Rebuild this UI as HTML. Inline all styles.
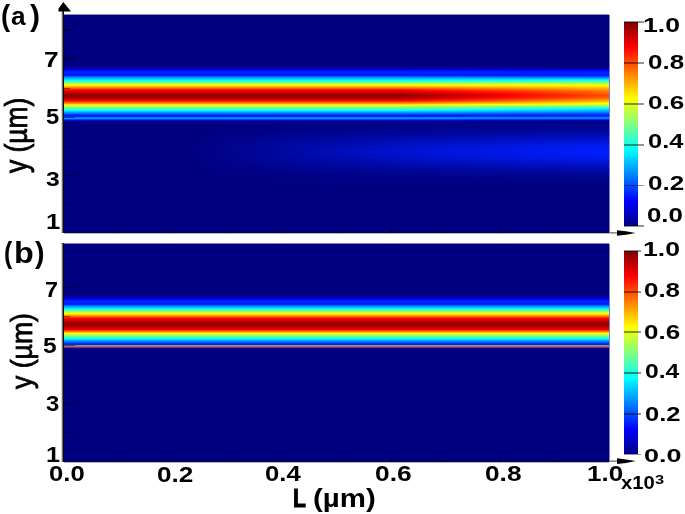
<!DOCTYPE html>
<html><head><meta charset="utf-8"><style>
html,body{margin:0;padding:0;background:#fff;width:685px;height:514px;overflow:hidden}
body{position:relative}
.t{position:absolute;white-space:nowrap;font-family:"Liberation Sans",sans-serif;font-weight:bold;color:#000;transform-origin:0 0}
.p{position:absolute;left:64px;width:545px}
.tk{position:absolute;background:rgba(0,0,0,0.45)}
.cbt{position:absolute;left:624px;width:20px;height:1.8px;background:rgba(0,0,0,0.42)}
.cb{position:absolute;left:624px;width:14.4px}
.ax{position:absolute;left:61px;width:3px;background:linear-gradient(to right,rgb(215,215,205) 0px,rgb(215,215,205) 1px,rgb(110,110,100) 1px,rgb(110,110,100) 2px,rgb(10,10,30) 2px,rgb(10,10,30) 3px)}
</style></head><body>
<div class="p" style="top:15px;height:218.0px;background:linear-gradient(to bottom,rgb(0, 0, 128) 0.0px,rgb(0, 0, 128) 51.5px,rgb(0, 0, 138) 52.0px,rgb(0, 0, 155) 52.5px,rgb(0, 0, 172) 53.0px,rgb(0, 0, 189) 53.5px,rgb(0, 0, 209) 54.0px,rgb(0, 0, 230) 54.5px,rgb(0, 0, 251) 55.0px,rgb(0, 7, 255) 55.5px,rgb(0, 16, 255) 56.0px,rgb(0, 25, 255) 56.5px,rgb(0, 34, 255) 57.0px,rgb(0, 42, 255) 57.5px,rgb(0, 41, 255) 58.0px,rgb(0, 33, 255) 58.5px,rgb(0, 25, 255) 59.0px,rgb(0, 22, 255) 59.5px,rgb(0, 18, 255) 60.0px,rgb(0, 29, 255) 60.5px,rgb(0, 62, 255) 61.0px,rgb(0, 95, 255) 61.5px,rgb(0, 128, 255) 62.0px,rgb(0, 148, 255) 62.5px,rgb(0, 168, 255) 63.0px,rgb(0, 189, 255) 63.5px,rgb(0, 206, 255) 64.0px,rgb(0, 224, 255) 64.5px,rgb(0, 241, 255) 65.0px,rgb(6, 255, 249) 65.5px,rgb(35, 255, 220) 66.0px,rgb(64, 255, 191) 66.5px,rgb(93, 255, 162) 67.0px,rgb(122, 255, 133) 67.5px,rgb(147, 255, 108) 68.0px,rgb(172, 255, 83) 68.5px,rgb(196, 255, 59) 69.0px,rgb(221, 255, 34) 69.5px,rgb(245, 255, 10) 70.0px,rgb(255, 240, 0) 70.5px,rgb(255, 214, 0) 71.0px,rgb(255, 189, 0) 71.5px,rgb(255, 163, 0) 72.0px,rgb(255, 138, 0) 72.5px,rgb(255, 111, 0) 73.0px,rgb(255, 85, 0) 73.5px,rgb(255, 58, 0) 74.0px,rgb(255, 31, 0) 74.5px,rgb(255, 9, 0) 75.0px,rgb(249, 0, 0) 75.5px,rgb(234, 0, 0) 76.0px,rgb(219, 0, 0) 76.5px,rgb(207, 0, 0) 77.0px,rgb(194, 0, 0) 77.5px,rgb(182, 0, 0) 78.0px,rgb(170, 0, 0) 78.5px,rgb(162, 0, 0) 79.0px,rgb(157, 0, 0) 79.5px,rgb(153, 0, 0) 80.0px,rgb(149, 0, 0) 80.5px,rgb(151, 0, 0) 81.0px,rgb(156, 0, 0) 81.5px,rgb(160, 0, 0) 82.0px,rgb(166, 0, 0) 82.5px,rgb(177, 0, 0) 83.0px,rgb(189, 0, 0) 83.5px,rgb(202, 0, 0) 84.0px,rgb(217, 0, 0) 84.5px,rgb(231, 0, 0) 85.0px,rgb(246, 0, 0) 85.5px,rgb(255, 11, 0) 86.0px,rgb(255, 39, 0) 86.5px,rgb(255, 67, 0) 87.0px,rgb(255, 94, 0) 87.5px,rgb(255, 122, 0) 88.0px,rgb(255, 154, 0) 88.5px,rgb(255, 188, 0) 89.0px,rgb(255, 221, 0) 89.5px,rgb(255, 255, 0) 90.0px,rgb(231, 255, 24) 90.5px,rgb(208, 255, 47) 91.0px,rgb(184, 255, 71) 91.5px,rgb(161, 255, 94) 92.0px,rgb(137, 255, 118) 92.5px,rgb(113, 255, 142) 93.0px,rgb(90, 255, 165) 93.5px,rgb(66, 255, 189) 94.0px,rgb(43, 255, 212) 94.5px,rgb(19, 255, 236) 95.0px,rgb(0, 250, 255) 95.5px,rgb(0, 227, 255) 96.0px,rgb(0, 203, 255) 96.5px,rgb(0, 179, 255) 97.0px,rgb(0, 156, 255) 97.5px,rgb(0, 132, 255) 98.0px,rgb(0, 110, 255) 98.5px,rgb(0, 89, 255) 99.0px,rgb(0, 68, 255) 99.5px,rgb(0, 47, 255) 100.0px,rgb(0, 25, 255) 100.5px,rgb(0, 25, 255) 101.0px,rgb(0, 40, 255) 101.5px,rgb(0, 77, 255) 102.0px,rgb(0, 121, 255) 102.5px,rgb(0, 148, 255) 103.0px,rgb(0, 148, 255) 103.5px,rgb(0, 107, 255) 104.0px,rgb(0, 56, 255) 104.5px,rgb(0, 10, 255) 105.0px,rgb(0, 0, 219) 105.5px,rgb(0, 0, 184) 106.0px,rgb(0, 0, 149) 106.5px,rgb(0, 0, 128) 107.0px,rgb(0, 0, 128) 218.0px)"></div>
<div class="p" style="top:15px;height:218.0px;background:linear-gradient(to bottom,rgb(0, 0, 128) 0.0px,rgb(0, 0, 128) 51.5px,rgb(0, 0, 135) 52.0px,rgb(0, 0, 148) 52.5px,rgb(0, 0, 165) 53.0px,rgb(0, 0, 183) 53.5px,rgb(0, 0, 204) 54.0px,rgb(0, 0, 226) 54.5px,rgb(0, 0, 248) 55.0px,rgb(0, 6, 255) 55.5px,rgb(0, 15, 255) 56.0px,rgb(0, 24, 255) 56.5px,rgb(0, 32, 255) 57.0px,rgb(0, 39, 255) 57.5px,rgb(0, 39, 255) 58.0px,rgb(0, 34, 255) 58.5px,rgb(0, 27, 255) 59.0px,rgb(0, 24, 255) 59.5px,rgb(0, 20, 255) 60.0px,rgb(0, 30, 255) 60.5px,rgb(0, 61, 255) 61.0px,rgb(0, 91, 255) 61.5px,rgb(0, 122, 255) 62.0px,rgb(0, 143, 255) 62.5px,rgb(0, 164, 255) 63.0px,rgb(0, 186, 255) 63.5px,rgb(0, 206, 255) 64.0px,rgb(0, 225, 255) 64.5px,rgb(0, 245, 255) 65.0px,rgb(11, 255, 244) 65.5px,rgb(39, 255, 216) 66.0px,rgb(67, 255, 188) 66.5px,rgb(95, 255, 160) 67.0px,rgb(123, 255, 132) 67.5px,rgb(148, 255, 107) 68.0px,rgb(172, 255, 83) 68.5px,rgb(197, 255, 58) 69.0px,rgb(221, 255, 34) 69.5px,rgb(245, 255, 10) 70.0px,rgb(255, 242, 0) 70.5px,rgb(255, 220, 0) 71.0px,rgb(255, 198, 0) 71.5px,rgb(255, 177, 0) 72.0px,rgb(255, 155, 0) 72.5px,rgb(255, 132, 0) 73.0px,rgb(255, 110, 0) 73.5px,rgb(255, 87, 0) 74.0px,rgb(255, 64, 0) 74.5px,rgb(255, 45, 0) 75.0px,rgb(255, 30, 0) 75.5px,rgb(255, 16, 0) 76.0px,rgb(255, 4, 0) 76.5px,rgb(247, 0, 0) 77.0px,rgb(237, 0, 0) 77.5px,rgb(226, 0, 0) 78.0px,rgb(216, 0, 0) 78.5px,rgb(208, 0, 0) 79.0px,rgb(203, 0, 0) 79.5px,rgb(199, 0, 0) 80.0px,rgb(194, 0, 0) 80.5px,rgb(198, 0, 0) 81.0px,rgb(202, 0, 0) 81.5px,rgb(207, 0, 0) 82.0px,rgb(212, 0, 0) 82.5px,rgb(224, 0, 0) 83.0px,rgb(235, 0, 0) 83.5px,rgb(247, 0, 0) 84.0px,rgb(255, 6, 0) 84.5px,rgb(255, 21, 0) 85.0px,rgb(255, 35, 0) 85.5px,rgb(255, 53, 0) 86.0px,rgb(255, 78, 0) 86.5px,rgb(255, 102, 0) 87.0px,rgb(255, 127, 0) 87.5px,rgb(255, 151, 0) 88.0px,rgb(255, 180, 0) 88.5px,rgb(255, 210, 0) 89.0px,rgb(255, 241, 0) 89.5px,rgb(238, 255, 17) 90.0px,rgb(215, 255, 40) 90.5px,rgb(191, 255, 64) 91.0px,rgb(165, 255, 90) 91.5px,rgb(140, 255, 115) 92.0px,rgb(115, 255, 140) 92.5px,rgb(90, 255, 165) 93.0px,rgb(66, 255, 189) 93.5px,rgb(44, 255, 211) 94.0px,rgb(22, 255, 233) 94.5px,rgb(1, 255, 254) 95.0px,rgb(0, 234, 255) 95.5px,rgb(0, 212, 255) 96.0px,rgb(0, 190, 255) 96.5px,rgb(0, 169, 255) 97.0px,rgb(0, 147, 255) 97.5px,rgb(0, 125, 255) 98.0px,rgb(0, 105, 255) 98.5px,rgb(0, 85, 255) 99.0px,rgb(0, 65, 255) 99.5px,rgb(0, 45, 255) 100.0px,rgb(0, 25, 255) 100.5px,rgb(0, 26, 255) 101.0px,rgb(0, 44, 255) 101.5px,rgb(0, 79, 255) 102.0px,rgb(0, 120, 255) 102.5px,rgb(0, 148, 255) 103.0px,rgb(0, 143, 255) 103.5px,rgb(0, 104, 255) 104.0px,rgb(0, 51, 255) 104.5px,rgb(0, 1, 255) 105.0px,rgb(0, 0, 214) 105.5px,rgb(0, 0, 180) 106.0px,rgb(0, 0, 147) 106.5px,rgb(0, 0, 128) 107.0px,rgb(0, 0, 128) 218.0px);-webkit-mask-image:linear-gradient(to right,rgba(0,0,0,0) 336.0px,rgba(0,0,0,1) 386.0px);mask-image:linear-gradient(to right,rgba(0,0,0,0) 336.0px,rgba(0,0,0,1) 386.0px)"></div><div class="p" style="top:15px;height:218.0px;background:linear-gradient(to bottom,rgb(0, 0, 128) 0.0px,rgb(0, 0, 128) 51.5px,rgb(0, 0, 133) 52.0px,rgb(0, 0, 141) 52.5px,rgb(0, 0, 158) 53.0px,rgb(0, 0, 178) 53.5px,rgb(0, 0, 199) 54.0px,rgb(0, 0, 222) 54.5px,rgb(0, 0, 245) 55.0px,rgb(0, 5, 255) 55.5px,rgb(0, 13, 255) 56.0px,rgb(0, 22, 255) 56.5px,rgb(0, 30, 255) 57.0px,rgb(0, 36, 255) 57.5px,rgb(0, 37, 255) 58.0px,rgb(0, 35, 255) 58.5px,rgb(0, 29, 255) 59.0px,rgb(0, 26, 255) 59.5px,rgb(0, 22, 255) 60.0px,rgb(0, 32, 255) 60.5px,rgb(0, 60, 255) 61.0px,rgb(0, 88, 255) 61.5px,rgb(0, 116, 255) 62.0px,rgb(0, 138, 255) 62.5px,rgb(0, 161, 255) 63.0px,rgb(0, 184, 255) 63.5px,rgb(0, 205, 255) 64.0px,rgb(0, 227, 255) 64.5px,rgb(0, 248, 255) 65.0px,rgb(16, 255, 239) 65.5px,rgb(43, 255, 212) 66.0px,rgb(70, 255, 185) 66.5px,rgb(97, 255, 158) 67.0px,rgb(125, 255, 130) 67.5px,rgb(149, 255, 106) 68.0px,rgb(173, 255, 82) 68.5px,rgb(197, 255, 58) 69.0px,rgb(221, 255, 34) 69.5px,rgb(245, 255, 10) 70.0px,rgb(255, 244, 0) 70.5px,rgb(255, 226, 0) 71.0px,rgb(255, 208, 0) 71.5px,rgb(255, 190, 0) 72.0px,rgb(255, 172, 0) 72.5px,rgb(255, 153, 0) 73.0px,rgb(255, 134, 0) 73.5px,rgb(255, 115, 0) 74.0px,rgb(255, 96, 0) 74.5px,rgb(255, 80, 0) 75.0px,rgb(255, 67, 0) 75.5px,rgb(255, 53, 0) 76.0px,rgb(255, 43, 0) 76.5px,rgb(255, 33, 0) 77.0px,rgb(255, 24, 0) 77.5px,rgb(255, 15, 0) 78.0px,rgb(255, 6, 0) 78.5px,rgb(254, 0, 0) 79.0px,rgb(249, 0, 0) 79.5px,rgb(245, 0, 0) 80.0px,rgb(240, 0, 0) 80.5px,rgb(244, 0, 0) 81.0px,rgb(249, 0, 0) 81.5px,rgb(253, 0, 0) 82.0px,rgb(255, 4, 0) 82.5px,rgb(255, 15, 0) 83.0px,rgb(255, 26, 0) 83.5px,rgb(255, 37, 0) 84.0px,rgb(255, 51, 0) 84.5px,rgb(255, 65, 0) 85.0px,rgb(255, 79, 0) 85.5px,rgb(255, 96, 0) 86.0px,rgb(255, 117, 0) 86.5px,rgb(255, 138, 0) 87.0px,rgb(255, 160, 0) 87.5px,rgb(255, 181, 0) 88.0px,rgb(255, 205, 0) 88.5px,rgb(255, 232, 0) 89.0px,rgb(250, 255, 5) 89.5px,rgb(222, 255, 33) 90.0px,rgb(199, 255, 56) 90.5px,rgb(174, 255, 81) 91.0px,rgb(147, 255, 108) 91.5px,rgb(120, 255, 135) 92.0px,rgb(93, 255, 162) 92.5px,rgb(66, 255, 189) 93.0px,rgb(42, 255, 213) 93.5px,rgb(22, 255, 233) 94.0px,rgb(2, 255, 253) 94.5px,rgb(0, 237, 255) 95.0px,rgb(0, 218, 255) 95.5px,rgb(0, 198, 255) 96.0px,rgb(0, 178, 255) 96.5px,rgb(0, 158, 255) 97.0px,rgb(0, 138, 255) 97.5px,rgb(0, 118, 255) 98.0px,rgb(0, 99, 255) 98.5px,rgb(0, 81, 255) 99.0px,rgb(0, 62, 255) 99.5px,rgb(0, 44, 255) 100.0px,rgb(0, 25, 255) 100.5px,rgb(0, 26, 255) 101.0px,rgb(0, 48, 255) 101.5px,rgb(0, 81, 255) 102.0px,rgb(0, 119, 255) 102.5px,rgb(0, 148, 255) 103.0px,rgb(0, 138, 255) 103.5px,rgb(0, 100, 255) 104.0px,rgb(0, 45, 255) 104.5px,rgb(0, 0, 247) 105.0px,rgb(0, 0, 209) 105.5px,rgb(0, 0, 175) 106.0px,rgb(0, 0, 145) 106.5px,rgb(0, 0, 128) 107.0px,rgb(0, 0, 128) 218.0px);-webkit-mask-image:linear-gradient(to right,rgba(0,0,0,0) 386.0px,rgba(0,0,0,1) 436.0px);mask-image:linear-gradient(to right,rgba(0,0,0,0) 386.0px,rgba(0,0,0,1) 436.0px)"></div><div class="p" style="top:15px;height:218.0px;background:linear-gradient(to bottom,rgb(0, 0, 128) 0.0px,rgb(0, 0, 128) 51.5px,rgb(0, 0, 130) 52.0px,rgb(0, 0, 134) 52.5px,rgb(0, 0, 152) 53.0px,rgb(0, 0, 172) 53.5px,rgb(0, 0, 194) 54.0px,rgb(0, 0, 218) 54.5px,rgb(0, 0, 242) 55.0px,rgb(0, 4, 255) 55.5px,rgb(0, 12, 255) 56.0px,rgb(0, 20, 255) 56.5px,rgb(0, 28, 255) 57.0px,rgb(0, 32, 255) 57.5px,rgb(0, 35, 255) 58.0px,rgb(0, 35, 255) 58.5px,rgb(0, 31, 255) 59.0px,rgb(0, 28, 255) 59.5px,rgb(0, 25, 255) 60.0px,rgb(0, 33, 255) 60.5px,rgb(0, 59, 255) 61.0px,rgb(0, 84, 255) 61.5px,rgb(0, 110, 255) 62.0px,rgb(0, 133, 255) 62.5px,rgb(0, 157, 255) 63.0px,rgb(0, 181, 255) 63.5px,rgb(0, 205, 255) 64.0px,rgb(0, 228, 255) 64.5px,rgb(0, 252, 255) 65.0px,rgb(21, 255, 234) 65.5px,rgb(47, 255, 208) 66.0px,rgb(73, 255, 182) 66.5px,rgb(100, 255, 155) 67.0px,rgb(126, 255, 129) 67.5px,rgb(150, 255, 105) 68.0px,rgb(174, 255, 81) 68.5px,rgb(198, 255, 57) 69.0px,rgb(222, 255, 33) 69.5px,rgb(245, 255, 10) 70.0px,rgb(255, 246, 0) 70.5px,rgb(255, 232, 0) 71.0px,rgb(255, 218, 0) 71.5px,rgb(255, 203, 0) 72.0px,rgb(255, 189, 0) 72.5px,rgb(255, 174, 0) 73.0px,rgb(255, 159, 0) 73.5px,rgb(255, 144, 0) 74.0px,rgb(255, 129, 0) 74.5px,rgb(255, 115, 0) 75.0px,rgb(255, 103, 0) 75.5px,rgb(255, 90, 0) 76.0px,rgb(255, 82, 0) 76.5px,rgb(255, 74, 0) 77.0px,rgb(255, 67, 0) 77.5px,rgb(255, 59, 0) 78.0px,rgb(255, 52, 0) 78.5px,rgb(255, 45, 0) 79.0px,rgb(255, 41, 0) 79.5px,rgb(255, 36, 0) 80.0px,rgb(255, 31, 0) 80.5px,rgb(255, 35, 0) 81.0px,rgb(255, 40, 0) 81.5px,rgb(255, 45, 0) 82.0px,rgb(255, 50, 0) 82.5px,rgb(255, 61, 0) 83.0px,rgb(255, 72, 0) 83.5px,rgb(255, 82, 0) 84.0px,rgb(255, 96, 0) 84.5px,rgb(255, 110, 0) 85.0px,rgb(255, 123, 0) 85.5px,rgb(255, 138, 0) 86.0px,rgb(255, 156, 0) 86.5px,rgb(255, 174, 0) 87.0px,rgb(255, 192, 0) 87.5px,rgb(255, 210, 0) 88.0px,rgb(255, 230, 0) 88.5px,rgb(255, 255, 0) 89.0px,rgb(230, 255, 25) 89.5px,rgb(205, 255, 50) 90.0px,rgb(183, 255, 72) 90.5px,rgb(157, 255, 98) 91.0px,rgb(128, 255, 127) 91.5px,rgb(99, 255, 156) 92.0px,rgb(71, 255, 184) 92.5px,rgb(42, 255, 213) 93.0px,rgb(18, 255, 237) 93.5px,rgb(0, 255, 255) 94.0px,rgb(0, 237, 255) 94.5px,rgb(0, 219, 255) 95.0px,rgb(0, 201, 255) 95.5px,rgb(0, 183, 255) 96.0px,rgb(0, 165, 255) 96.5px,rgb(0, 147, 255) 97.0px,rgb(0, 129, 255) 97.5px,rgb(0, 111, 255) 98.0px,rgb(0, 93, 255) 98.5px,rgb(0, 76, 255) 99.0px,rgb(0, 59, 255) 99.5px,rgb(0, 42, 255) 100.0px,rgb(0, 25, 255) 100.5px,rgb(0, 27, 255) 101.0px,rgb(0, 52, 255) 101.5px,rgb(0, 83, 255) 102.0px,rgb(0, 117, 255) 102.5px,rgb(0, 148, 255) 103.0px,rgb(0, 134, 255) 103.5px,rgb(0, 97, 255) 104.0px,rgb(0, 40, 255) 104.5px,rgb(0, 0, 238) 105.0px,rgb(0, 0, 203) 105.5px,rgb(0, 0, 171) 106.0px,rgb(0, 0, 144) 106.5px,rgb(0, 0, 128) 107.0px,rgb(0, 0, 128) 218.0px);-webkit-mask-image:linear-gradient(to right,rgba(0,0,0,0) 436.0px,rgba(0,0,0,1) 491.0px);mask-image:linear-gradient(to right,rgba(0,0,0,0) 436.0px,rgba(0,0,0,1) 491.0px)"></div><div class="p" style="top:15px;height:218.0px;background:linear-gradient(to bottom,rgb(0, 0, 128) 0.0px,rgb(0, 0, 128) 52.5px,rgb(0, 0, 145) 53.0px,rgb(0, 0, 167) 53.5px,rgb(0, 0, 189) 54.0px,rgb(0, 0, 214) 54.5px,rgb(0, 0, 240) 55.0px,rgb(0, 3, 255) 55.5px,rgb(0, 11, 255) 56.0px,rgb(0, 18, 255) 56.5px,rgb(0, 25, 255) 57.0px,rgb(0, 29, 255) 57.5px,rgb(0, 32, 255) 58.0px,rgb(0, 36, 255) 58.5px,rgb(0, 33, 255) 59.0px,rgb(0, 30, 255) 59.5px,rgb(0, 27, 255) 60.0px,rgb(0, 35, 255) 60.5px,rgb(0, 58, 255) 61.0px,rgb(0, 81, 255) 61.5px,rgb(0, 104, 255) 62.0px,rgb(0, 128, 255) 62.5px,rgb(0, 153, 255) 63.0px,rgb(0, 178, 255) 63.5px,rgb(0, 204, 255) 64.0px,rgb(0, 229, 255) 64.5px,rgb(0, 255, 255) 65.0px,rgb(26, 255, 229) 65.5px,rgb(51, 255, 204) 66.0px,rgb(77, 255, 178) 66.5px,rgb(102, 255, 153) 67.0px,rgb(128, 255, 128) 67.5px,rgb(151, 255, 104) 68.0px,rgb(175, 255, 80) 68.5px,rgb(198, 255, 57) 69.0px,rgb(222, 255, 33) 69.5px,rgb(246, 255, 9) 70.0px,rgb(255, 249, 0) 70.5px,rgb(255, 238, 0) 71.0px,rgb(255, 227, 0) 71.5px,rgb(255, 217, 0) 72.0px,rgb(255, 206, 0) 72.5px,rgb(255, 195, 0) 73.0px,rgb(255, 184, 0) 73.5px,rgb(255, 173, 0) 74.0px,rgb(255, 162, 0) 74.5px,rgb(255, 150, 0) 75.0px,rgb(255, 139, 0) 75.5px,rgb(255, 128, 0) 76.0px,rgb(255, 121, 0) 76.5px,rgb(255, 115, 0) 77.0px,rgb(255, 109, 0) 77.5px,rgb(255, 103, 0) 78.0px,rgb(255, 97, 0) 78.5px,rgb(255, 92, 0) 79.0px,rgb(255, 87, 0) 79.5px,rgb(255, 82, 0) 80.0px,rgb(255, 76, 0) 80.5px,rgb(255, 82, 0) 81.0px,rgb(255, 87, 0) 81.5px,rgb(255, 92, 0) 82.0px,rgb(255, 97, 0) 82.5px,rgb(255, 107, 0) 83.0px,rgb(255, 117, 0) 83.5px,rgb(255, 128, 0) 84.0px,rgb(255, 141, 0) 84.5px,rgb(255, 154, 0) 85.0px,rgb(255, 167, 0) 85.5px,rgb(255, 181, 0) 86.0px,rgb(255, 195, 0) 86.5px,rgb(255, 210, 0) 87.0px,rgb(255, 225, 0) 87.5px,rgb(255, 240, 0) 88.0px,rgb(255, 255, 0) 88.5px,rgb(233, 255, 22) 89.0px,rgb(211, 255, 44) 89.5px,rgb(189, 255, 66) 90.0px,rgb(167, 255, 88) 90.5px,rgb(140, 255, 115) 91.0px,rgb(109, 255, 146) 91.5px,rgb(79, 255, 176) 92.0px,rgb(49, 255, 206) 92.5px,rgb(18, 255, 237) 93.0px,rgb(0, 249, 255) 93.5px,rgb(0, 233, 255) 94.0px,rgb(0, 217, 255) 94.5px,rgb(0, 201, 255) 95.0px,rgb(0, 185, 255) 95.5px,rgb(0, 169, 255) 96.0px,rgb(0, 152, 255) 96.5px,rgb(0, 136, 255) 97.0px,rgb(0, 120, 255) 97.5px,rgb(0, 103, 255) 98.0px,rgb(0, 87, 255) 98.5px,rgb(0, 72, 255) 99.0px,rgb(0, 56, 255) 99.5px,rgb(0, 40, 255) 100.0px,rgb(0, 25, 255) 100.5px,rgb(0, 27, 255) 101.0px,rgb(0, 56, 255) 101.5px,rgb(0, 85, 255) 102.0px,rgb(0, 116, 255) 102.5px,rgb(0, 148, 255) 103.0px,rgb(0, 129, 255) 103.5px,rgb(0, 93, 255) 104.0px,rgb(0, 34, 255) 104.5px,rgb(0, 0, 230) 105.0px,rgb(0, 0, 198) 105.5px,rgb(0, 0, 167) 106.0px,rgb(0, 0, 142) 106.5px,rgb(0, 0, 128) 107.0px,rgb(0, 0, 128) 218.0px);-webkit-mask-image:linear-gradient(to right,rgba(0,0,0,0) 491.0px,rgba(0,0,0,1) 545.5px);mask-image:linear-gradient(to right,rgba(0,0,0,0) 491.0px,rgba(0,0,0,1) 545.5px)"></div>
<div class="p" style="top:120px;height:65px;background:linear-gradient(to bottom,rgba(0,30,255,0.032) 0.0px,rgba(0,30,255,0.040) 1.0px,rgba(0,30,255,0.049) 2.0px,rgba(0,30,255,0.060) 3.0px,rgba(0,30,255,0.073) 4.0px,rgba(0,30,255,0.088) 5.0px,rgba(0,30,255,0.105) 6.0px,rgba(0,30,255,0.125) 7.0px,rgba(0,30,255,0.148) 8.0px,rgba(0,30,255,0.173) 9.0px,rgba(0,30,255,0.202) 10.0px,rgba(0,30,255,0.234) 11.0px,rgba(0,30,255,0.268) 12.0px,rgba(0,30,255,0.306) 13.0px,rgba(0,30,255,0.347) 14.0px,rgba(0,30,255,0.390) 15.0px,rgba(0,30,255,0.435) 16.0px,rgba(0,30,255,0.483) 17.0px,rgba(0,30,255,0.532) 18.0px,rgba(0,30,255,0.582) 19.0px,rgba(0,30,255,0.633) 20.0px,rgba(0,30,255,0.683) 21.0px,rgba(0,30,255,0.732) 22.0px,rgba(0,30,255,0.779) 23.0px,rgba(0,30,255,0.823) 24.0px,rgba(0,30,255,0.864) 25.0px,rgba(0,30,255,0.901) 26.0px,rgba(0,30,255,0.932) 27.0px,rgba(0,30,255,0.958) 28.0px,rgba(0,30,255,0.979) 29.0px,rgba(0,30,255,0.992) 30.0px,rgba(0,30,255,0.999) 31.0px,rgba(0,30,255,0.999) 32.0px,rgba(0,30,255,0.993) 33.0px,rgba(0,30,255,0.980) 34.0px,rgba(0,30,255,0.961) 35.0px,rgba(0,30,255,0.936) 36.0px,rgba(0,30,255,0.906) 37.0px,rgba(0,30,255,0.871) 38.0px,rgba(0,30,255,0.832) 39.0px,rgba(0,30,255,0.790) 40.0px,rgba(0,30,255,0.745) 41.0px,rgba(0,30,255,0.698) 42.0px,rgba(0,30,255,0.649) 43.0px,rgba(0,30,255,0.600) 44.0px,rgba(0,30,255,0.552) 45.0px,rgba(0,30,255,0.503) 46.0px,rgba(0,30,255,0.456) 47.0px,rgba(0,30,255,0.411) 48.0px,rgba(0,30,255,0.368) 49.0px,rgba(0,30,255,0.327) 50.0px,rgba(0,30,255,0.289) 51.0px,rgba(0,30,255,0.254) 52.0px,rgba(0,30,255,0.221) 53.0px,rgba(0,30,255,0.191) 54.0px,rgba(0,30,255,0.165) 55.0px,rgba(0,30,255,0.141) 56.0px,rgba(0,30,255,0.120) 57.0px,rgba(0,30,255,0.101) 58.0px,rgba(0,30,255,0.085) 59.0px,rgba(0,30,255,0.070) 60.0px,rgba(0,30,255,0.058) 61.0px,rgba(0,30,255,0.048) 62.0px,rgba(0,30,255,0.039) 63.0px,rgba(0,30,255,0.032) 64.0px,rgba(0,30,255,0.026) 65.0px);-webkit-mask-image:linear-gradient(to right,rgba(0,0,0,0) 126.0px,rgba(0,0,0,0.32) 236.0px,rgba(0,0,0,0.62) 336.0px,rgba(0,0,0,0.82) 436.0px,rgba(0,0,0,1) 545.5px);mask-image:linear-gradient(to right,rgba(0,0,0,0) 126.0px,rgba(0,0,0,0.32) 236.0px,rgba(0,0,0,0.62) 336.0px,rgba(0,0,0,0.82) 436.0px,rgba(0,0,0,1) 545.5px)"></div>
<div class="p" style="top:244px;height:218px;background:linear-gradient(to bottom,rgb(0, 0, 128) 0.0px,rgb(0, 0, 128) 52.0px,rgb(0, 0, 141) 52.5px,rgb(0, 0, 158) 53.0px,rgb(0, 0, 175) 53.5px,rgb(0, 0, 193) 54.0px,rgb(0, 0, 217) 54.5px,rgb(0, 0, 241) 55.0px,rgb(0, 4, 255) 55.5px,rgb(0, 14, 255) 56.0px,rgb(0, 24, 255) 56.5px,rgb(0, 32, 255) 57.0px,rgb(0, 41, 255) 57.5px,rgb(0, 43, 255) 58.0px,rgb(0, 34, 255) 58.5px,rgb(0, 25, 255) 59.0px,rgb(0, 21, 255) 59.5px,rgb(0, 17, 255) 60.0px,rgb(0, 36, 255) 60.5px,rgb(0, 71, 255) 61.0px,rgb(0, 106, 255) 61.5px,rgb(0, 136, 255) 62.0px,rgb(0, 158, 255) 62.5px,rgb(0, 180, 255) 63.0px,rgb(0, 200, 255) 63.5px,rgb(0, 220, 255) 64.0px,rgb(0, 239, 255) 64.5px,rgb(6, 255, 249) 65.0px,rgb(36, 255, 219) 65.5px,rgb(67, 255, 188) 66.0px,rgb(97, 255, 158) 66.5px,rgb(128, 255, 128) 67.0px,rgb(152, 255, 103) 67.5px,rgb(177, 255, 78) 68.0px,rgb(201, 255, 54) 68.5px,rgb(226, 255, 29) 69.0px,rgb(250, 255, 5) 69.5px,rgb(255, 235, 0) 70.0px,rgb(255, 209, 0) 70.5px,rgb(255, 184, 0) 71.0px,rgb(255, 158, 0) 71.5px,rgb(255, 133, 0) 72.0px,rgb(255, 106, 0) 72.5px,rgb(255, 79, 0) 73.0px,rgb(255, 53, 0) 73.5px,rgb(255, 26, 0) 74.0px,rgb(255, 6, 0) 74.5px,rgb(246, 0, 0) 75.0px,rgb(231, 0, 0) 75.5px,rgb(218, 0, 0) 76.0px,rgb(210, 0, 0) 76.5px,rgb(202, 0, 0) 77.0px,rgb(192, 0, 0) 77.5px,rgb(180, 0, 0) 78.0px,rgb(168, 0, 0) 78.5px,rgb(160, 0, 0) 79.0px,rgb(156, 0, 0) 79.5px,rgb(151, 0, 0) 80.0px,rgb(149, 0, 0) 80.5px,rgb(153, 0, 0) 81.0px,rgb(157, 0, 0) 81.5px,rgb(162, 0, 0) 82.0px,rgb(170, 0, 0) 82.5px,rgb(182, 0, 0) 83.0px,rgb(194, 0, 0) 83.5px,rgb(207, 0, 0) 84.0px,rgb(221, 0, 0) 84.5px,rgb(235, 0, 0) 85.0px,rgb(249, 0, 0) 85.5px,rgb(255, 20, 0) 86.0px,rgb(255, 54, 0) 86.5px,rgb(255, 87, 0) 87.0px,rgb(255, 121, 0) 87.5px,rgb(255, 156, 0) 88.0px,rgb(255, 191, 0) 88.5px,rgb(255, 227, 0) 89.0px,rgb(250, 255, 5) 89.5px,rgb(224, 255, 31) 90.0px,rgb(199, 255, 56) 90.5px,rgb(173, 255, 82) 91.0px,rgb(148, 255, 107) 91.5px,rgb(123, 255, 132) 92.0px,rgb(101, 255, 154) 92.5px,rgb(79, 255, 176) 93.0px,rgb(57, 255, 198) 93.5px,rgb(35, 255, 220) 94.0px,rgb(13, 255, 242) 94.5px,rgb(0, 246, 255) 95.0px,rgb(0, 222, 255) 95.5px,rgb(0, 198, 255) 96.0px,rgb(0, 175, 255) 96.5px,rgb(0, 151, 255) 97.0px,rgb(0, 128, 255) 97.5px,rgb(0, 108, 255) 98.0px,rgb(0, 88, 255) 98.5px,rgb(0, 68, 255) 99.0px,rgb(0, 48, 255) 99.5px,rgb(0, 35, 255) 100.0px,rgb(0, 32, 255) 100.5px,rgb(0, 29, 255) 101.0px,rgb(0, 25, 255) 101.5px,rgb(0, 0, 255) 102.0px,rgb(0, 0, 230) 102.5px,rgb(0, 0, 202) 103.0px,rgb(0, 0, 175) 103.5px,rgb(0, 0, 149) 104.0px,rgb(0, 0, 128) 104.5px,rgb(0, 0, 128) 218.0px)"></div>
<div class="p" style="top:345px;height:3.5px;background:linear-gradient(to bottom,rgb(140,150,130) 0px,rgb(150,140,120) 1.0px,rgb(170,90,95) 1.8px,rgb(120,50,110) 2.5px,rgb(30,0,135) 3.5px)"></div>
<div style="position:absolute;left:64px;top:14px;width:545px;height:1px;background:rgba(0,0,128,0.45)"></div>
<div style="position:absolute;left:64px;top:243px;width:545px;height:1px;background:rgba(0,0,128,0.5)"></div>
<div style="position:absolute;left:64px;top:232px;width:545px;height:1px;background:rgb(5,5,60)"></div>
<div style="position:absolute;left:64px;top:461px;width:545px;height:1px;background:rgb(5,5,60)"></div>
<div style="position:absolute;left:64px;top:233px;width:545px;height:1px;background:rgba(0,0,128,0.3)"></div>
<div style="position:absolute;left:64px;top:462px;width:545px;height:1px;background:rgba(0,0,128,0.3)"></div>
<div style="position:absolute;left:609px;top:15px;width:1px;height:218px;background:rgba(0,0,128,0.5)"></div>
<div style="position:absolute;left:609px;top:244px;width:1px;height:218px;background:rgba(0,0,128,0.5)"></div>
<div class="ax" style="top:10px;height:223.0px"></div>
<div class="ax" style="top:243px;height:219px"></div>
<svg style="position:absolute;left:0;top:0" width="685" height="514">
<polygon points="63.3,1.9 71,11.6 58.4,11.6 58.6,8.5" fill="#000"/>
<line x1="609.5" y1="232.9" x2="620" y2="232.9" stroke="#444" stroke-width="1"/>
<polygon points="617,230.2 626,231.2 635.5,232.9 626,234.8 617,235.7" fill="#000"/>
<line x1="609.5" y1="461.1" x2="620" y2="461.1" stroke="#444" stroke-width="1"/>
<polygon points="617,458.3 626,459.4 635.8,461.1 626,463 617,464" fill="#000"/>
</svg>
<div class="cb" style="top:21.7px;height:204.5px;background:linear-gradient(to bottom,rgb(128, 0, 0) 0.0px,rgb(130, 0, 0) 0.5px,rgb(132, 0, 0) 1.0px,rgb(135, 0, 0) 1.5px,rgb(137, 0, 0) 2.0px,rgb(140, 0, 0) 2.5px,rgb(142, 0, 0) 3.0px,rgb(145, 0, 0) 3.5px,rgb(147, 0, 0) 4.0px,rgb(150, 0, 0) 4.5px,rgb(152, 0, 0) 5.0px,rgb(155, 0, 0) 5.5px,rgb(157, 0, 0) 6.0px,rgb(160, 0, 0) 6.5px,rgb(162, 0, 0) 7.0px,rgb(165, 0, 0) 7.5px,rgb(167, 0, 0) 8.0px,rgb(170, 0, 0) 8.5px,rgb(172, 0, 0) 9.0px,rgb(175, 0, 0) 9.5px,rgb(177, 0, 0) 10.0px,rgb(180, 0, 0) 10.5px,rgb(182, 0, 0) 11.0px,rgb(185, 0, 0) 11.5px,rgb(187, 0, 0) 12.0px,rgb(190, 0, 0) 12.5px,rgb(192, 0, 0) 13.0px,rgb(195, 0, 0) 13.5px,rgb(197, 0, 0) 14.0px,rgb(200, 0, 0) 14.5px,rgb(202, 0, 0) 15.0px,rgb(205, 0, 0) 15.5px,rgb(207, 0, 0) 16.0px,rgb(210, 0, 0) 16.5px,rgb(212, 0, 0) 17.0px,rgb(215, 0, 0) 17.5px,rgb(217, 0, 0) 18.0px,rgb(220, 0, 0) 18.5px,rgb(222, 0, 0) 19.0px,rgb(225, 0, 0) 19.5px,rgb(227, 0, 0) 20.0px,rgb(230, 0, 0) 20.5px,rgb(232, 0, 0) 21.0px,rgb(235, 0, 0) 21.5px,rgb(237, 0, 0) 22.0px,rgb(240, 0, 0) 22.5px,rgb(242, 0, 0) 23.0px,rgb(245, 0, 0) 23.5px,rgb(247, 0, 0) 24.0px,rgb(250, 0, 0) 24.5px,rgb(252, 0, 0) 25.0px,rgb(255, 0, 0) 25.5px,rgb(255, 2, 0) 26.0px,rgb(255, 5, 0) 26.5px,rgb(255, 7, 0) 27.0px,rgb(255, 10, 0) 27.5px,rgb(255, 12, 0) 28.0px,rgb(255, 15, 0) 28.5px,rgb(255, 17, 0) 29.0px,rgb(255, 20, 0) 29.5px,rgb(255, 22, 0) 30.0px,rgb(255, 25, 0) 30.5px,rgb(255, 27, 0) 31.0px,rgb(255, 30, 0) 31.5px,rgb(255, 32, 0) 32.0px,rgb(255, 35, 0) 32.5px,rgb(255, 37, 0) 33.0px,rgb(255, 40, 0) 33.5px,rgb(255, 42, 0) 34.0px,rgb(255, 45, 0) 34.5px,rgb(255, 47, 0) 35.0px,rgb(255, 50, 0) 35.5px,rgb(255, 52, 0) 36.0px,rgb(255, 55, 0) 36.5px,rgb(255, 57, 0) 37.0px,rgb(255, 60, 0) 37.5px,rgb(255, 62, 0) 38.0px,rgb(255, 65, 0) 38.5px,rgb(255, 67, 0) 39.0px,rgb(255, 70, 0) 39.5px,rgb(255, 72, 0) 40.0px,rgb(255, 75, 0) 40.5px,rgb(255, 77, 0) 41.0px,rgb(255, 79, 0) 41.5px,rgb(255, 82, 0) 42.0px,rgb(255, 84, 0) 42.5px,rgb(255, 87, 0) 43.0px,rgb(255, 89, 0) 43.5px,rgb(255, 92, 0) 44.0px,rgb(255, 94, 0) 44.5px,rgb(255, 97, 0) 45.0px,rgb(255, 99, 0) 45.5px,rgb(255, 102, 0) 46.0px,rgb(255, 104, 0) 46.5px,rgb(255, 107, 0) 47.0px,rgb(255, 109, 0) 47.5px,rgb(255, 112, 0) 48.0px,rgb(255, 114, 0) 48.5px,rgb(255, 117, 0) 49.0px,rgb(255, 119, 0) 49.5px,rgb(255, 122, 0) 50.0px,rgb(255, 124, 0) 50.5px,rgb(255, 127, 0) 51.0px,rgb(255, 129, 0) 51.5px,rgb(255, 132, 0) 52.0px,rgb(255, 134, 0) 52.5px,rgb(255, 137, 0) 53.0px,rgb(255, 139, 0) 53.5px,rgb(255, 142, 0) 54.0px,rgb(255, 144, 0) 54.5px,rgb(255, 147, 0) 55.0px,rgb(255, 149, 0) 55.5px,rgb(255, 152, 0) 56.0px,rgb(255, 154, 0) 56.5px,rgb(255, 157, 0) 57.0px,rgb(255, 159, 0) 57.5px,rgb(255, 162, 0) 58.0px,rgb(255, 164, 0) 58.5px,rgb(255, 167, 0) 59.0px,rgb(255, 169, 0) 59.5px,rgb(255, 172, 0) 60.0px,rgb(255, 174, 0) 60.5px,rgb(255, 177, 0) 61.0px,rgb(255, 179, 0) 61.5px,rgb(255, 182, 0) 62.0px,rgb(255, 184, 0) 62.5px,rgb(255, 187, 0) 63.0px,rgb(255, 189, 0) 63.5px,rgb(255, 192, 0) 64.0px,rgb(255, 194, 0) 64.5px,rgb(255, 197, 0) 65.0px,rgb(255, 199, 0) 65.5px,rgb(255, 202, 0) 66.0px,rgb(255, 204, 0) 66.5px,rgb(255, 207, 0) 67.0px,rgb(255, 209, 0) 67.5px,rgb(255, 212, 0) 68.0px,rgb(255, 214, 0) 68.5px,rgb(255, 217, 0) 69.0px,rgb(255, 219, 0) 69.5px,rgb(255, 222, 0) 70.0px,rgb(255, 224, 0) 70.5px,rgb(255, 227, 0) 71.0px,rgb(255, 229, 0) 71.5px,rgb(255, 232, 0) 72.0px,rgb(255, 234, 0) 72.5px,rgb(255, 237, 0) 73.0px,rgb(255, 239, 0) 73.5px,rgb(255, 242, 0) 74.0px,rgb(255, 244, 0) 74.5px,rgb(255, 247, 0) 75.0px,rgb(255, 249, 0) 75.5px,rgb(255, 252, 0) 76.0px,rgb(255, 254, 0) 76.5px,rgb(253, 255, 2) 77.0px,rgb(251, 255, 4) 77.5px,rgb(248, 255, 7) 78.0px,rgb(246, 255, 9) 78.5px,rgb(243, 255, 12) 79.0px,rgb(241, 255, 14) 79.5px,rgb(238, 255, 17) 80.0px,rgb(236, 255, 19) 80.5px,rgb(233, 255, 22) 81.0px,rgb(231, 255, 24) 81.5px,rgb(229, 255, 26) 82.0px,rgb(226, 255, 29) 82.5px,rgb(224, 255, 31) 83.0px,rgb(221, 255, 34) 83.5px,rgb(219, 255, 36) 84.0px,rgb(216, 255, 39) 84.5px,rgb(214, 255, 41) 85.0px,rgb(211, 255, 44) 85.5px,rgb(209, 255, 46) 86.0px,rgb(206, 255, 49) 86.5px,rgb(204, 255, 51) 87.0px,rgb(201, 255, 54) 87.5px,rgb(199, 255, 56) 88.0px,rgb(196, 255, 59) 88.5px,rgb(194, 255, 61) 89.0px,rgb(191, 255, 64) 89.5px,rgb(189, 255, 66) 90.0px,rgb(186, 255, 69) 90.5px,rgb(184, 255, 71) 91.0px,rgb(181, 255, 74) 91.5px,rgb(179, 255, 76) 92.0px,rgb(176, 255, 79) 92.5px,rgb(174, 255, 81) 93.0px,rgb(171, 255, 84) 93.5px,rgb(169, 255, 86) 94.0px,rgb(166, 255, 89) 94.5px,rgb(164, 255, 91) 95.0px,rgb(161, 255, 94) 95.5px,rgb(159, 255, 96) 96.0px,rgb(156, 255, 99) 96.5px,rgb(154, 255, 101) 97.0px,rgb(151, 255, 104) 97.5px,rgb(149, 255, 106) 98.0px,rgb(146, 255, 109) 98.5px,rgb(144, 255, 111) 99.0px,rgb(141, 255, 114) 99.5px,rgb(139, 255, 116) 100.0px,rgb(136, 255, 119) 100.5px,rgb(134, 255, 121) 101.0px,rgb(131, 255, 124) 101.5px,rgb(129, 255, 126) 102.0px,rgb(126, 255, 129) 102.5px,rgb(124, 255, 131) 103.0px,rgb(121, 255, 134) 103.5px,rgb(119, 255, 136) 104.0px,rgb(116, 255, 139) 104.5px,rgb(114, 255, 141) 105.0px,rgb(111, 255, 144) 105.5px,rgb(109, 255, 146) 106.0px,rgb(106, 255, 149) 106.5px,rgb(104, 255, 151) 107.0px,rgb(101, 255, 154) 107.5px,rgb(99, 255, 156) 108.0px,rgb(96, 255, 159) 108.5px,rgb(94, 255, 161) 109.0px,rgb(91, 255, 164) 109.5px,rgb(89, 255, 166) 110.0px,rgb(86, 255, 169) 110.5px,rgb(84, 255, 171) 111.0px,rgb(81, 255, 174) 111.5px,rgb(79, 255, 176) 112.0px,rgb(76, 255, 179) 112.5px,rgb(74, 255, 181) 113.0px,rgb(71, 255, 184) 113.5px,rgb(69, 255, 186) 114.0px,rgb(66, 255, 189) 114.5px,rgb(64, 255, 191) 115.0px,rgb(61, 255, 194) 115.5px,rgb(59, 255, 196) 116.0px,rgb(56, 255, 199) 116.5px,rgb(54, 255, 201) 117.0px,rgb(51, 255, 204) 117.5px,rgb(49, 255, 206) 118.0px,rgb(46, 255, 209) 118.5px,rgb(44, 255, 211) 119.0px,rgb(41, 255, 214) 119.5px,rgb(39, 255, 216) 120.0px,rgb(36, 255, 219) 120.5px,rgb(34, 255, 221) 121.0px,rgb(31, 255, 224) 121.5px,rgb(29, 255, 226) 122.0px,rgb(26, 255, 229) 122.5px,rgb(24, 255, 231) 123.0px,rgb(22, 255, 233) 123.5px,rgb(19, 255, 236) 124.0px,rgb(17, 255, 238) 124.5px,rgb(14, 255, 241) 125.0px,rgb(12, 255, 243) 125.5px,rgb(9, 255, 246) 126.0px,rgb(7, 255, 248) 126.5px,rgb(4, 255, 251) 127.0px,rgb(2, 255, 253) 127.5px,rgb(0, 254, 255) 128.0px,rgb(0, 252, 255) 128.5px,rgb(0, 249, 255) 129.0px,rgb(0, 247, 255) 129.5px,rgb(0, 244, 255) 130.0px,rgb(0, 242, 255) 130.5px,rgb(0, 239, 255) 131.0px,rgb(0, 237, 255) 131.5px,rgb(0, 234, 255) 132.0px,rgb(0, 232, 255) 132.5px,rgb(0, 229, 255) 133.0px,rgb(0, 227, 255) 133.5px,rgb(0, 224, 255) 134.0px,rgb(0, 222, 255) 134.5px,rgb(0, 219, 255) 135.0px,rgb(0, 217, 255) 135.5px,rgb(0, 214, 255) 136.0px,rgb(0, 212, 255) 136.5px,rgb(0, 209, 255) 137.0px,rgb(0, 207, 255) 137.5px,rgb(0, 204, 255) 138.0px,rgb(0, 202, 255) 138.5px,rgb(0, 199, 255) 139.0px,rgb(0, 197, 255) 139.5px,rgb(0, 194, 255) 140.0px,rgb(0, 192, 255) 140.5px,rgb(0, 189, 255) 141.0px,rgb(0, 187, 255) 141.5px,rgb(0, 184, 255) 142.0px,rgb(0, 182, 255) 142.5px,rgb(0, 179, 255) 143.0px,rgb(0, 177, 255) 143.5px,rgb(0, 174, 255) 144.0px,rgb(0, 172, 255) 144.5px,rgb(0, 169, 255) 145.0px,rgb(0, 167, 255) 145.5px,rgb(0, 164, 255) 146.0px,rgb(0, 162, 255) 146.5px,rgb(0, 159, 255) 147.0px,rgb(0, 157, 255) 147.5px,rgb(0, 154, 255) 148.0px,rgb(0, 152, 255) 148.5px,rgb(0, 149, 255) 149.0px,rgb(0, 147, 255) 149.5px,rgb(0, 144, 255) 150.0px,rgb(0, 142, 255) 150.5px,rgb(0, 139, 255) 151.0px,rgb(0, 137, 255) 151.5px,rgb(0, 134, 255) 152.0px,rgb(0, 132, 255) 152.5px,rgb(0, 129, 255) 153.0px,rgb(0, 127, 255) 153.5px,rgb(0, 124, 255) 154.0px,rgb(0, 122, 255) 154.5px,rgb(0, 119, 255) 155.0px,rgb(0, 117, 255) 155.5px,rgb(0, 114, 255) 156.0px,rgb(0, 112, 255) 156.5px,rgb(0, 109, 255) 157.0px,rgb(0, 107, 255) 157.5px,rgb(0, 104, 255) 158.0px,rgb(0, 102, 255) 158.5px,rgb(0, 99, 255) 159.0px,rgb(0, 97, 255) 159.5px,rgb(0, 94, 255) 160.0px,rgb(0, 92, 255) 160.5px,rgb(0, 89, 255) 161.0px,rgb(0, 87, 255) 161.5px,rgb(0, 84, 255) 162.0px,rgb(0, 82, 255) 162.5px,rgb(0, 79, 255) 163.0px,rgb(0, 77, 255) 163.5px,rgb(0, 75, 255) 164.0px,rgb(0, 72, 255) 164.5px,rgb(0, 70, 255) 165.0px,rgb(0, 67, 255) 165.5px,rgb(0, 65, 255) 166.0px,rgb(0, 62, 255) 166.5px,rgb(0, 60, 255) 167.0px,rgb(0, 57, 255) 167.5px,rgb(0, 55, 255) 168.0px,rgb(0, 52, 255) 168.5px,rgb(0, 50, 255) 169.0px,rgb(0, 47, 255) 169.5px,rgb(0, 45, 255) 170.0px,rgb(0, 42, 255) 170.5px,rgb(0, 40, 255) 171.0px,rgb(0, 37, 255) 171.5px,rgb(0, 35, 255) 172.0px,rgb(0, 32, 255) 172.5px,rgb(0, 30, 255) 173.0px,rgb(0, 27, 255) 173.5px,rgb(0, 25, 255) 174.0px,rgb(0, 22, 255) 174.5px,rgb(0, 20, 255) 175.0px,rgb(0, 17, 255) 175.5px,rgb(0, 15, 255) 176.0px,rgb(0, 12, 255) 176.5px,rgb(0, 10, 255) 177.0px,rgb(0, 7, 255) 177.5px,rgb(0, 5, 255) 178.0px,rgb(0, 2, 255) 178.5px,rgb(0, 0, 255) 179.0px,rgb(0, 0, 252) 179.5px,rgb(0, 0, 250) 180.0px,rgb(0, 0, 247) 180.5px,rgb(0, 0, 245) 181.0px,rgb(0, 0, 242) 181.5px,rgb(0, 0, 240) 182.0px,rgb(0, 0, 237) 182.5px,rgb(0, 0, 235) 183.0px,rgb(0, 0, 232) 183.5px,rgb(0, 0, 230) 184.0px,rgb(0, 0, 227) 184.5px,rgb(0, 0, 225) 185.0px,rgb(0, 0, 222) 185.5px,rgb(0, 0, 220) 186.0px,rgb(0, 0, 217) 186.5px,rgb(0, 0, 215) 187.0px,rgb(0, 0, 212) 187.5px,rgb(0, 0, 210) 188.0px,rgb(0, 0, 207) 188.5px,rgb(0, 0, 205) 189.0px,rgb(0, 0, 202) 189.5px,rgb(0, 0, 200) 190.0px,rgb(0, 0, 197) 190.5px,rgb(0, 0, 195) 191.0px,rgb(0, 0, 192) 191.5px,rgb(0, 0, 190) 192.0px,rgb(0, 0, 187) 192.5px,rgb(0, 0, 185) 193.0px,rgb(0, 0, 182) 193.5px,rgb(0, 0, 180) 194.0px,rgb(0, 0, 177) 194.5px,rgb(0, 0, 175) 195.0px,rgb(0, 0, 172) 195.5px,rgb(0, 0, 170) 196.0px,rgb(0, 0, 167) 196.5px,rgb(0, 0, 165) 197.0px,rgb(0, 0, 162) 197.5px,rgb(0, 0, 160) 198.0px,rgb(0, 0, 157) 198.5px,rgb(0, 0, 155) 199.0px,rgb(0, 0, 152) 199.5px,rgb(0, 0, 150) 200.0px,rgb(0, 0, 147) 200.5px,rgb(0, 0, 145) 201.0px,rgb(0, 0, 142) 201.5px,rgb(0, 0, 140) 202.0px,rgb(0, 0, 137) 202.5px,rgb(0, 0, 135) 203.0px,rgb(0, 0, 132) 203.5px,rgb(0, 0, 130) 204.0px,rgb(0, 0, 128) 204.5px)"></div>
<div class="cb" style="top:250.5px;height:203.89999999999998px;background:linear-gradient(to bottom,rgb(128, 0, 0) 0.0px,rgb(130, 0, 0) 0.5px,rgb(133, 0, 0) 1.0px,rgb(135, 0, 0) 1.5px,rgb(138, 0, 0) 2.0px,rgb(140, 0, 0) 2.5px,rgb(143, 0, 0) 3.0px,rgb(145, 0, 0) 3.5px,rgb(148, 0, 0) 4.0px,rgb(150, 0, 0) 4.5px,rgb(153, 0, 0) 5.0px,rgb(155, 0, 0) 5.5px,rgb(158, 0, 0) 6.0px,rgb(160, 0, 0) 6.5px,rgb(163, 0, 0) 7.0px,rgb(165, 0, 0) 7.5px,rgb(168, 0, 0) 8.0px,rgb(170, 0, 0) 8.5px,rgb(173, 0, 0) 9.0px,rgb(175, 0, 0) 9.5px,rgb(178, 0, 0) 10.0px,rgb(180, 0, 0) 10.5px,rgb(183, 0, 0) 11.0px,rgb(185, 0, 0) 11.5px,rgb(188, 0, 0) 12.0px,rgb(190, 0, 0) 12.5px,rgb(193, 0, 0) 13.0px,rgb(195, 0, 0) 13.5px,rgb(198, 0, 0) 14.0px,rgb(200, 0, 0) 14.5px,rgb(203, 0, 0) 15.0px,rgb(205, 0, 0) 15.5px,rgb(208, 0, 0) 16.0px,rgb(210, 0, 0) 16.5px,rgb(213, 0, 0) 17.0px,rgb(215, 0, 0) 17.5px,rgb(218, 0, 0) 18.0px,rgb(220, 0, 0) 18.5px,rgb(223, 0, 0) 19.0px,rgb(225, 0, 0) 19.5px,rgb(228, 0, 0) 20.0px,rgb(230, 0, 0) 20.5px,rgb(233, 0, 0) 21.0px,rgb(235, 0, 0) 21.5px,rgb(238, 0, 0) 22.0px,rgb(240, 0, 0) 22.5px,rgb(243, 0, 0) 23.0px,rgb(245, 0, 0) 23.5px,rgb(248, 0, 0) 24.0px,rgb(250, 0, 0) 24.5px,rgb(253, 0, 0) 25.0px,rgb(255, 0, 0) 25.5px,rgb(255, 3, 0) 26.0px,rgb(255, 5, 0) 26.5px,rgb(255, 8, 0) 27.0px,rgb(255, 10, 0) 27.5px,rgb(255, 13, 0) 28.0px,rgb(255, 15, 0) 28.5px,rgb(255, 18, 0) 29.0px,rgb(255, 20, 0) 29.5px,rgb(255, 23, 0) 30.0px,rgb(255, 25, 0) 30.5px,rgb(255, 28, 0) 31.0px,rgb(255, 30, 0) 31.5px,rgb(255, 33, 0) 32.0px,rgb(255, 35, 0) 32.5px,rgb(255, 38, 0) 33.0px,rgb(255, 40, 0) 33.5px,rgb(255, 43, 0) 34.0px,rgb(255, 45, 0) 34.5px,rgb(255, 48, 0) 35.0px,rgb(255, 50, 0) 35.5px,rgb(255, 53, 0) 36.0px,rgb(255, 55, 0) 36.5px,rgb(255, 58, 0) 37.0px,rgb(255, 60, 0) 37.5px,rgb(255, 63, 0) 38.0px,rgb(255, 65, 0) 38.5px,rgb(255, 68, 0) 39.0px,rgb(255, 70, 0) 39.5px,rgb(255, 73, 0) 40.0px,rgb(255, 75, 0) 40.5px,rgb(255, 78, 0) 41.0px,rgb(255, 80, 0) 41.5px,rgb(255, 83, 0) 42.0px,rgb(255, 85, 0) 42.5px,rgb(255, 88, 0) 43.0px,rgb(255, 90, 0) 43.5px,rgb(255, 93, 0) 44.0px,rgb(255, 95, 0) 44.5px,rgb(255, 98, 0) 45.0px,rgb(255, 100, 0) 45.5px,rgb(255, 103, 0) 46.0px,rgb(255, 105, 0) 46.5px,rgb(255, 108, 0) 47.0px,rgb(255, 110, 0) 47.5px,rgb(255, 113, 0) 48.0px,rgb(255, 115, 0) 48.5px,rgb(255, 118, 0) 49.0px,rgb(255, 120, 0) 49.5px,rgb(255, 123, 0) 50.0px,rgb(255, 125, 0) 50.5px,rgb(255, 128, 0) 51.0px,rgb(255, 130, 0) 51.5px,rgb(255, 133, 0) 52.0px,rgb(255, 135, 0) 52.5px,rgb(255, 138, 0) 53.0px,rgb(255, 140, 0) 53.5px,rgb(255, 143, 0) 54.0px,rgb(255, 145, 0) 54.5px,rgb(255, 148, 0) 55.0px,rgb(255, 150, 0) 55.5px,rgb(255, 153, 0) 56.0px,rgb(255, 155, 0) 56.5px,rgb(255, 158, 0) 57.0px,rgb(255, 160, 0) 57.5px,rgb(255, 163, 0) 58.0px,rgb(255, 165, 0) 58.5px,rgb(255, 168, 0) 59.0px,rgb(255, 170, 0) 59.5px,rgb(255, 173, 0) 60.0px,rgb(255, 175, 0) 60.5px,rgb(255, 178, 0) 61.0px,rgb(255, 180, 0) 61.5px,rgb(255, 183, 0) 62.0px,rgb(255, 185, 0) 62.5px,rgb(255, 188, 0) 63.0px,rgb(255, 190, 0) 63.5px,rgb(255, 193, 0) 64.0px,rgb(255, 195, 0) 64.5px,rgb(255, 198, 0) 65.0px,rgb(255, 200, 0) 65.5px,rgb(255, 203, 0) 66.0px,rgb(255, 205, 0) 66.5px,rgb(255, 208, 0) 67.0px,rgb(255, 210, 0) 67.5px,rgb(255, 213, 0) 68.0px,rgb(255, 215, 0) 68.5px,rgb(255, 218, 0) 69.0px,rgb(255, 220, 0) 69.5px,rgb(255, 223, 0) 70.0px,rgb(255, 225, 0) 70.5px,rgb(255, 228, 0) 71.0px,rgb(255, 230, 0) 71.5px,rgb(255, 233, 0) 72.0px,rgb(255, 235, 0) 72.5px,rgb(255, 238, 0) 73.0px,rgb(255, 240, 0) 73.5px,rgb(255, 243, 0) 74.0px,rgb(255, 245, 0) 74.5px,rgb(255, 248, 0) 75.0px,rgb(255, 250, 0) 75.5px,rgb(255, 253, 0) 76.0px,rgb(255, 255, 0) 76.5px,rgb(252, 255, 3) 77.0px,rgb(250, 255, 5) 77.5px,rgb(247, 255, 8) 78.0px,rgb(245, 255, 10) 78.5px,rgb(242, 255, 13) 79.0px,rgb(240, 255, 15) 79.5px,rgb(237, 255, 18) 80.0px,rgb(235, 255, 20) 80.5px,rgb(232, 255, 23) 81.0px,rgb(230, 255, 25) 81.5px,rgb(227, 255, 28) 82.0px,rgb(225, 255, 30) 82.5px,rgb(222, 255, 33) 83.0px,rgb(220, 255, 35) 83.5px,rgb(217, 255, 38) 84.0px,rgb(215, 255, 40) 84.5px,rgb(212, 255, 43) 85.0px,rgb(210, 255, 45) 85.5px,rgb(207, 255, 48) 86.0px,rgb(205, 255, 50) 86.5px,rgb(202, 255, 53) 87.0px,rgb(200, 255, 55) 87.5px,rgb(197, 255, 58) 88.0px,rgb(195, 255, 60) 88.5px,rgb(192, 255, 63) 89.0px,rgb(190, 255, 65) 89.5px,rgb(187, 255, 68) 90.0px,rgb(185, 255, 70) 90.5px,rgb(182, 255, 73) 91.0px,rgb(180, 255, 75) 91.5px,rgb(177, 255, 78) 92.0px,rgb(175, 255, 80) 92.5px,rgb(172, 255, 83) 93.0px,rgb(170, 255, 85) 93.5px,rgb(167, 255, 88) 94.0px,rgb(165, 255, 90) 94.5px,rgb(162, 255, 93) 95.0px,rgb(160, 255, 95) 95.5px,rgb(157, 255, 98) 96.0px,rgb(155, 255, 100) 96.5px,rgb(152, 255, 103) 97.0px,rgb(150, 255, 105) 97.5px,rgb(147, 255, 108) 98.0px,rgb(145, 255, 110) 98.5px,rgb(142, 255, 113) 99.0px,rgb(140, 255, 115) 99.5px,rgb(137, 255, 118) 100.0px,rgb(135, 255, 120) 100.5px,rgb(132, 255, 123) 101.0px,rgb(130, 255, 125) 101.5px,rgb(127, 255, 128) 102.0px,rgb(125, 255, 130) 102.5px,rgb(122, 255, 133) 103.0px,rgb(120, 255, 135) 103.5px,rgb(117, 255, 138) 104.0px,rgb(115, 255, 140) 104.5px,rgb(112, 255, 143) 105.0px,rgb(110, 255, 145) 105.5px,rgb(107, 255, 148) 106.0px,rgb(105, 255, 150) 106.5px,rgb(102, 255, 153) 107.0px,rgb(100, 255, 155) 107.5px,rgb(97, 255, 158) 108.0px,rgb(95, 255, 160) 108.5px,rgb(92, 255, 163) 109.0px,rgb(90, 255, 165) 109.5px,rgb(87, 255, 168) 110.0px,rgb(85, 255, 170) 110.5px,rgb(82, 255, 173) 111.0px,rgb(80, 255, 175) 111.5px,rgb(77, 255, 178) 112.0px,rgb(75, 255, 180) 112.5px,rgb(72, 255, 183) 113.0px,rgb(70, 255, 185) 113.5px,rgb(67, 255, 188) 114.0px,rgb(65, 255, 190) 114.5px,rgb(62, 255, 193) 115.0px,rgb(60, 255, 195) 115.5px,rgb(57, 255, 198) 116.0px,rgb(55, 255, 200) 116.5px,rgb(52, 255, 203) 117.0px,rgb(50, 255, 205) 117.5px,rgb(47, 255, 208) 118.0px,rgb(45, 255, 210) 118.5px,rgb(42, 255, 213) 119.0px,rgb(40, 255, 215) 119.5px,rgb(37, 255, 218) 120.0px,rgb(35, 255, 220) 120.5px,rgb(32, 255, 223) 121.0px,rgb(30, 255, 225) 121.5px,rgb(27, 255, 228) 122.0px,rgb(25, 255, 230) 122.5px,rgb(22, 255, 233) 123.0px,rgb(20, 255, 235) 123.5px,rgb(17, 255, 238) 124.0px,rgb(15, 255, 240) 124.5px,rgb(12, 255, 243) 125.0px,rgb(10, 255, 245) 125.5px,rgb(7, 255, 248) 126.0px,rgb(5, 255, 250) 126.5px,rgb(2, 255, 253) 127.0px,rgb(0, 255, 255) 127.5px,rgb(0, 252, 255) 128.0px,rgb(0, 250, 255) 128.5px,rgb(0, 247, 255) 129.0px,rgb(0, 245, 255) 129.5px,rgb(0, 242, 255) 130.0px,rgb(0, 240, 255) 130.5px,rgb(0, 237, 255) 131.0px,rgb(0, 235, 255) 131.5px,rgb(0, 232, 255) 132.0px,rgb(0, 230, 255) 132.5px,rgb(0, 227, 255) 133.0px,rgb(0, 225, 255) 133.5px,rgb(0, 222, 255) 134.0px,rgb(0, 220, 255) 134.5px,rgb(0, 217, 255) 135.0px,rgb(0, 215, 255) 135.5px,rgb(0, 212, 255) 136.0px,rgb(0, 210, 255) 136.5px,rgb(0, 207, 255) 137.0px,rgb(0, 205, 255) 137.5px,rgb(0, 202, 255) 138.0px,rgb(0, 200, 255) 138.5px,rgb(0, 197, 255) 139.0px,rgb(0, 195, 255) 139.5px,rgb(0, 192, 255) 140.0px,rgb(0, 190, 255) 140.5px,rgb(0, 187, 255) 141.0px,rgb(0, 185, 255) 141.5px,rgb(0, 182, 255) 142.0px,rgb(0, 180, 255) 142.5px,rgb(0, 177, 255) 143.0px,rgb(0, 175, 255) 143.5px,rgb(0, 172, 255) 144.0px,rgb(0, 170, 255) 144.5px,rgb(0, 167, 255) 145.0px,rgb(0, 165, 255) 145.5px,rgb(0, 162, 255) 146.0px,rgb(0, 160, 255) 146.5px,rgb(0, 157, 255) 147.0px,rgb(0, 155, 255) 147.5px,rgb(0, 152, 255) 148.0px,rgb(0, 150, 255) 148.5px,rgb(0, 147, 255) 149.0px,rgb(0, 145, 255) 149.5px,rgb(0, 142, 255) 150.0px,rgb(0, 140, 255) 150.5px,rgb(0, 137, 255) 151.0px,rgb(0, 135, 255) 151.5px,rgb(0, 132, 255) 152.0px,rgb(0, 130, 255) 152.5px,rgb(0, 127, 255) 153.0px,rgb(0, 125, 255) 153.5px,rgb(0, 122, 255) 154.0px,rgb(0, 120, 255) 154.5px,rgb(0, 117, 255) 155.0px,rgb(0, 115, 255) 155.5px,rgb(0, 112, 255) 156.0px,rgb(0, 110, 255) 156.5px,rgb(0, 107, 255) 157.0px,rgb(0, 105, 255) 157.5px,rgb(0, 102, 255) 158.0px,rgb(0, 100, 255) 158.5px,rgb(0, 97, 255) 159.0px,rgb(0, 95, 255) 159.5px,rgb(0, 92, 255) 160.0px,rgb(0, 90, 255) 160.5px,rgb(0, 87, 255) 161.0px,rgb(0, 85, 255) 161.5px,rgb(0, 82, 255) 162.0px,rgb(0, 80, 255) 162.5px,rgb(0, 77, 255) 163.0px,rgb(0, 75, 255) 163.5px,rgb(0, 72, 255) 164.0px,rgb(0, 70, 255) 164.5px,rgb(0, 67, 255) 165.0px,rgb(0, 65, 255) 165.5px,rgb(0, 62, 255) 166.0px,rgb(0, 60, 255) 166.5px,rgb(0, 57, 255) 167.0px,rgb(0, 55, 255) 167.5px,rgb(0, 52, 255) 168.0px,rgb(0, 50, 255) 168.5px,rgb(0, 47, 255) 169.0px,rgb(0, 45, 255) 169.5px,rgb(0, 42, 255) 170.0px,rgb(0, 40, 255) 170.5px,rgb(0, 37, 255) 171.0px,rgb(0, 35, 255) 171.5px,rgb(0, 32, 255) 172.0px,rgb(0, 30, 255) 172.5px,rgb(0, 27, 255) 173.0px,rgb(0, 25, 255) 173.5px,rgb(0, 22, 255) 174.0px,rgb(0, 20, 255) 174.5px,rgb(0, 17, 255) 175.0px,rgb(0, 15, 255) 175.5px,rgb(0, 12, 255) 176.0px,rgb(0, 10, 255) 176.5px,rgb(0, 7, 255) 177.0px,rgb(0, 5, 255) 177.5px,rgb(0, 2, 255) 178.0px,rgb(0, 0, 255) 178.5px,rgb(0, 0, 252) 179.0px,rgb(0, 0, 250) 179.5px,rgb(0, 0, 247) 180.0px,rgb(0, 0, 245) 180.5px,rgb(0, 0, 242) 181.0px,rgb(0, 0, 240) 181.5px,rgb(0, 0, 237) 182.0px,rgb(0, 0, 235) 182.5px,rgb(0, 0, 232) 183.0px,rgb(0, 0, 230) 183.5px,rgb(0, 0, 227) 184.0px,rgb(0, 0, 225) 184.5px,rgb(0, 0, 222) 185.0px,rgb(0, 0, 220) 185.5px,rgb(0, 0, 217) 186.0px,rgb(0, 0, 215) 186.5px,rgb(0, 0, 212) 187.0px,rgb(0, 0, 210) 187.5px,rgb(0, 0, 207) 188.0px,rgb(0, 0, 205) 188.5px,rgb(0, 0, 202) 189.0px,rgb(0, 0, 200) 189.5px,rgb(0, 0, 197) 190.0px,rgb(0, 0, 195) 190.5px,rgb(0, 0, 192) 191.0px,rgb(0, 0, 190) 191.5px,rgb(0, 0, 187) 192.0px,rgb(0, 0, 185) 192.5px,rgb(0, 0, 182) 193.0px,rgb(0, 0, 180) 193.5px,rgb(0, 0, 177) 194.0px,rgb(0, 0, 175) 194.5px,rgb(0, 0, 172) 195.0px,rgb(0, 0, 170) 195.5px,rgb(0, 0, 167) 196.0px,rgb(0, 0, 165) 196.5px,rgb(0, 0, 162) 197.0px,rgb(0, 0, 160) 197.5px,rgb(0, 0, 157) 198.0px,rgb(0, 0, 155) 198.5px,rgb(0, 0, 152) 199.0px,rgb(0, 0, 150) 199.5px,rgb(0, 0, 147) 200.0px,rgb(0, 0, 145) 200.5px,rgb(0, 0, 142) 201.0px,rgb(0, 0, 140) 201.5px,rgb(0, 0, 137) 202.0px,rgb(0, 0, 135) 202.5px,rgb(0, 0, 132) 203.0px,rgb(0, 0, 130) 203.5px)"></div>
<div class="tk" style="left:117.95px;top:230.50px;width:1.3px;height:2.5px;background:rgba(0,0,20,0.8)"></div><div class="tk" style="left:172.50px;top:229.00px;width:1.3px;height:4px;background:rgba(0,0,20,0.8)"></div><div class="tk" style="left:227.05px;top:230.50px;width:1.3px;height:2.5px;background:rgba(0,0,20,0.8)"></div><div class="tk" style="left:281.60px;top:229.00px;width:1.3px;height:4px;background:rgba(0,0,20,0.8)"></div><div class="tk" style="left:336.15px;top:230.50px;width:1.3px;height:2.5px;background:rgba(0,0,20,0.8)"></div><div class="tk" style="left:390.70px;top:229.00px;width:1.3px;height:4px;background:rgba(0,0,20,0.8)"></div><div class="tk" style="left:445.25px;top:230.50px;width:1.3px;height:2.5px;background:rgba(0,0,20,0.8)"></div><div class="tk" style="left:499.80px;top:229.00px;width:1.3px;height:4px;background:rgba(0,0,20,0.8)"></div><div class="tk" style="left:554.35px;top:230.50px;width:1.3px;height:2.5px;background:rgba(0,0,20,0.8)"></div><div class="tk" style="left:117.95px;top:459.50px;width:1.3px;height:2.5px;background:rgba(0,0,20,0.8)"></div><div class="tk" style="left:172.50px;top:458.00px;width:1.3px;height:4px;background:rgba(0,0,20,0.8)"></div><div class="tk" style="left:227.05px;top:459.50px;width:1.3px;height:2.5px;background:rgba(0,0,20,0.8)"></div><div class="tk" style="left:281.60px;top:458.00px;width:1.3px;height:4px;background:rgba(0,0,20,0.8)"></div><div class="tk" style="left:336.15px;top:459.50px;width:1.3px;height:2.5px;background:rgba(0,0,20,0.8)"></div><div class="tk" style="left:390.70px;top:458.00px;width:1.3px;height:4px;background:rgba(0,0,20,0.8)"></div><div class="tk" style="left:445.25px;top:459.50px;width:1.3px;height:2.5px;background:rgba(0,0,20,0.8)"></div><div class="tk" style="left:499.80px;top:458.00px;width:1.3px;height:4px;background:rgba(0,0,20,0.8)"></div><div class="tk" style="left:554.35px;top:459.50px;width:1.3px;height:2.5px;background:rgba(0,0,20,0.8)"></div><div class="tk" style="left:64.0px;top:29.40px;width:6px;height:1.2px"></div><div class="tk" style="left:64.0px;top:58.45px;width:11px;height:1.2px"></div><div class="tk" style="left:64.0px;top:87.50px;width:6px;height:1.2px"></div><div class="tk" style="left:64.0px;top:116.55px;width:11px;height:1.2px"></div><div class="tk" style="left:64.0px;top:145.60px;width:6px;height:1.2px"></div><div class="tk" style="left:64.0px;top:174.65px;width:11px;height:1.2px"></div><div class="tk" style="left:64.0px;top:203.70px;width:6px;height:1.2px"></div><div class="tk" style="left:64.0px;top:257.70px;width:6px;height:1.2px"></div><div class="tk" style="left:64.0px;top:286.75px;width:11px;height:1.2px"></div><div class="tk" style="left:64.0px;top:315.80px;width:6px;height:1.2px"></div><div class="tk" style="left:64.0px;top:344.85px;width:11px;height:1.2px"></div><div class="tk" style="left:64.0px;top:373.90px;width:6px;height:1.2px"></div><div class="tk" style="left:64.0px;top:402.95px;width:11px;height:1.2px"></div><div class="tk" style="left:64.0px;top:432.00px;width:6px;height:1.2px"></div>
<div class="cbt" style="top:21.40px;width:20px"></div><div class="cbt" style="top:62.20px;width:20px"></div><div class="cbt" style="top:103.00px;width:20px"></div><div class="cbt" style="top:143.80px;width:20px"></div><div class="cbt" style="top:184.60px;width:20px"></div><div class="cbt" style="top:225.40px;width:20px"></div><div class="cbt" style="top:250.00px;width:16.5px"></div><div class="cbt" style="top:290.72px;width:16.5px"></div><div class="cbt" style="top:331.44px;width:16.5px"></div><div class="cbt" style="top:372.16px;width:16.5px"></div><div class="cbt" style="top:412.88px;width:16.5px"></div><div class="cbt" style="top:453.60px;width:16.5px"></div>
<div class="t" style="left:0.58px;top:0.69px;font-size:29.61px;line-height:29.61px;transform:scaleX(0.9274);">(</div>
<div class="t" style="left:11.33px;top:3.81px;font-size:25.55px;line-height:25.55px;transform:scaleX(1.0275);">a</div>
<div class="t" style="left:30.37px;top:0.69px;font-size:29.61px;line-height:29.61px;transform:scaleX(1.0172);">)</div>
<div class="t" style="left:3.86px;top:238.12px;font-size:30.15px;line-height:30.15px;transform:scaleX(0.8228);">(</div>
<div class="t" style="left:13.87px;top:239.11px;font-size:28.60px;line-height:28.60px;transform:scaleX(1.1312);">b</div>
<div class="t" style="left:34.67px;top:238.12px;font-size:30.15px;line-height:30.15px;transform:scaleX(0.9520);">)</div>
<div class="t" style="left:44.47px;top:48.38px;font-size:22.82px;line-height:22.82px;transform:scaleX(1.1487);">7</div>
<div class="t" style="left:46.27px;top:105.61px;font-size:22.64px;line-height:22.64px;transform:scaleX(1.0473);">5</div>
<div class="t" style="left:45.83px;top:167.76px;font-size:21.14px;line-height:21.14px;transform:scaleX(1.1704);">3</div>
<div class="t" style="left:45.99px;top:210.75px;font-size:22.38px;line-height:22.38px;transform:scaleX(1.1425);">1</div>
<div class="t" style="left:44.89px;top:279.46px;font-size:21.66px;line-height:21.66px;transform:scaleX(1.0824);">7</div>
<div class="t" style="left:43.15px;top:334.63px;font-size:22.50px;line-height:22.50px;transform:scaleX(1.0897);">5</div>
<div class="t" style="left:45.95px;top:393.52px;font-size:21.42px;line-height:21.42px;transform:scaleX(1.1174);">3</div>
<div class="t" style="left:46.42px;top:443.00px;font-size:22.67px;line-height:22.67px;transform:scaleX(1.1089);">1</div>
<div class="t" style="left:48.63px;top:462.51px;font-size:22.17px;line-height:22.17px;transform:scaleX(1.1588);">0.0</div>
<div class="t" style="left:157.36px;top:463.61px;font-size:22.17px;line-height:22.17px;transform:scaleX(1.1803);">0.2</div>
<div class="t" style="left:265.18px;top:462.97px;font-size:21.75px;line-height:21.75px;transform:scaleX(1.1825);">0.4</div>
<div class="t" style="left:374.76px;top:462.91px;font-size:22.17px;line-height:22.17px;transform:scaleX(1.1905);">0.6</div>
<div class="t" style="left:485.16px;top:462.91px;font-size:22.17px;line-height:22.17px;transform:scaleX(1.1856);">0.8</div>
<div class="t" style="left:586.86px;top:463.03px;font-size:22.03px;line-height:22.03px;transform:scaleX(1.1821);">1.0</div>
<div class="t" style="left:643.33px;top:16.04px;font-size:19.92px;line-height:19.92px;transform:scaleX(1.3352);">1.0</div>
<div class="t" style="left:648.17px;top:53.09px;font-size:19.63px;line-height:19.63px;transform:scaleX(1.3237);">0.8</div>
<div class="t" style="left:648.17px;top:94.02px;font-size:18.08px;line-height:18.08px;transform:scaleX(1.4434);">0.6</div>
<div class="t" style="left:647.89px;top:132.26px;font-size:19.77px;line-height:19.77px;transform:scaleX(1.2895);">0.4</div>
<div class="t" style="left:647.87px;top:174.26px;font-size:19.77px;line-height:19.77px;transform:scaleX(1.3159);">0.2</div>
<div class="t" style="left:646.68px;top:205.76px;font-size:19.77px;line-height:19.77px;transform:scaleX(1.3053);">0.0</div>
<div class="t" style="left:643.33px;top:240.29px;font-size:19.63px;line-height:19.63px;transform:scaleX(1.3545);">1.0</div>
<div class="t" style="left:643.98px;top:280.99px;font-size:19.63px;line-height:19.63px;transform:scaleX(1.3199);">0.8</div>
<div class="t" style="left:643.97px;top:322.69px;font-size:19.63px;line-height:19.63px;transform:scaleX(1.3253);">0.6</div>
<div class="t" style="left:645.02px;top:361.69px;font-size:19.63px;line-height:19.63px;transform:scaleX(1.2571);">0.4</div>
<div class="t" style="left:644.99px;top:405.29px;font-size:19.63px;line-height:19.63px;transform:scaleX(1.3020);">0.2</div>
<div class="t" style="left:643.63px;top:446.37px;font-size:19.07px;line-height:19.07px;transform:scaleX(1.4137);">0.0</div>
<div class="t" style="left:621.06px;top:475.16px;font-size:17.80px;line-height:17.80px;transform:scaleX(1.1373);">x10</div>
<div class="t" style="left:654.62px;top:474.22px;font-size:11.98px;line-height:11.98px;transform:scaleX(1.3769);">3</div>
<div class="t" style="left:293.09px;top:485.96px;font-size:24.86px;line-height:24.86px;transform:scaleX(0.8467);-webkit-text-stroke:1.0px #000;">L</div>
<div class="t" style="left:312.73px;top:484.81px;font-size:26.16px;line-height:26.16px;transform:scaleX(1.1250);">(µm)</div>
<div class="t" style="left:1.95px;top:173.36px;font-size:30.68px;font-weight:normal;line-height:30.68px;transform-origin:0 0;transform:rotate(-90deg) scaleX(0.8602);-webkit-text-stroke:0.8px #000;filter:grayscale(1);">y (µm)</div>
<div class="t" style="left:6.83px;top:388.76px;font-size:30.04px;font-weight:normal;line-height:30.04px;transform-origin:0 0;transform:rotate(-90deg) scaleX(0.8858);-webkit-text-stroke:0.8px #000;filter:grayscale(1);">y (µm)</div>
</body></html>
